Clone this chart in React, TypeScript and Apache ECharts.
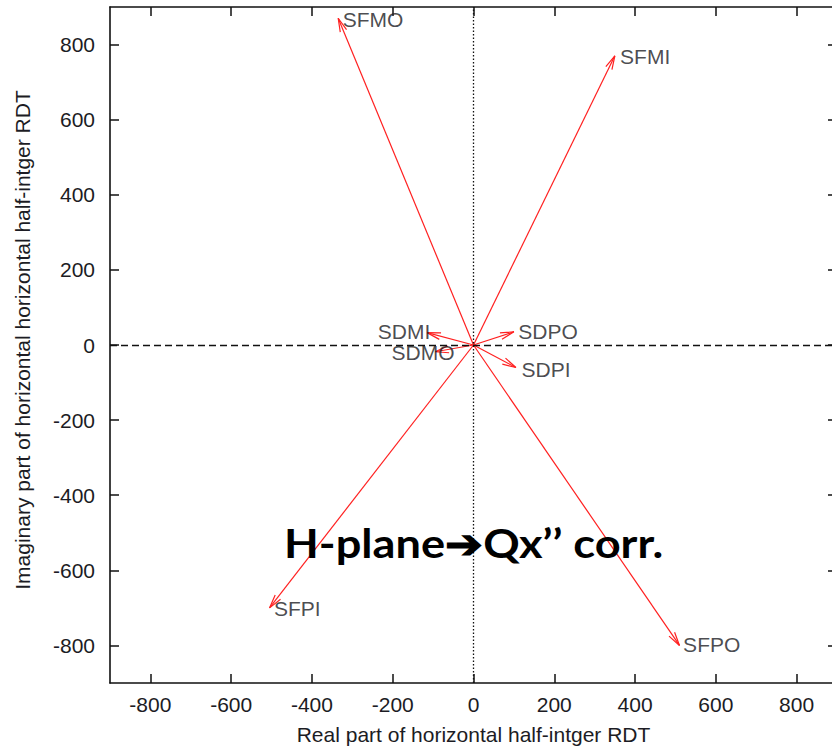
import React, { useEffect, useRef } from "react";
import * as echarts from "echarts";

const names = ["SFMO", "SFMI", "SFPI", "SFPO", "SDPO", "SDPI", "SDMI", "SDMO"];
const realPart = [-335, 350, -505, 510, 100, 105, -115, -95];
const imagPart = [870, 770, -700, -800, 35, -60, 33, -18];
const labelX = [-324, 363, -494, 519, 111, 119, -237, -203];
const labelY = [867, 768, -701, -797, 35, -64, 35, -21];
const tickValues = [-800, -600, -400, -200, 0, 200, 400, 600, 800];
const xTitle = "Real part of horizontal half-intger RDT";
const yTitle = "Imaginary part of horizontal horizontal half-intger RDT";
const overlayText = "H-plane\u2794Qx\u2019\u2019 corr.";

const FONT = "'Liberation Sans', Arial, sans-serif";
const TXT = "#1c1c24";
const FS = 21;

export default function App() {
  const ref = useRef<HTMLDivElement>(null);
  useEffect(() => {
    if (!ref.current) return;
    const chart = echarts.init(ref.current, undefined, { renderer: "svg" });
    const axisCommon = {
      type: "value" as const,
      min: -900,
      max: 900,
      splitLine: { show: false },
      axisLine: { show: true, onZero: false, lineStyle: { color: "#111", width: 1.6 } },
      axisTick: {
        show: true,
        inside: true,
        length: 9,
        customValues: tickValues,
        lineStyle: { color: "#111", width: 1.5 },
      },
    };
    const arrowData = names.map((n, i) => ({ name: n, value: [realPart[i], imagPart[i]] }));
    const labelData = names.map((n, i) => ({ name: n, value: [labelX[i], labelY[i]] }));
    chart.setOption({
      animation: false,
      backgroundColor: "#fff",
      grid: { left: 110, top: 7, width: 727, height: 676, outerBoundsMode: "none", containLabel: false },
      xAxis: [
        {
          ...axisCommon,
          position: "bottom",
          name: xTitle,
          nameLocation: "middle",
          nameGap: 41,
          nameTextStyle: { fontFamily: FONT, fontSize: FS, color: TXT },
          axisLabel: {
            show: true,
            customValues: tickValues,
            margin: 11,
            fontFamily: FONT,
            fontSize: FS,
            color: TXT,
          },
        },
        { ...axisCommon, position: "top", axisLabel: { show: false } },
      ],
      yAxis: [
        {
          ...axisCommon,
          position: "left",
          axisLabel: {
            show: true,
            customValues: tickValues,
            margin: 15,
            fontFamily: FONT,
            fontSize: FS,
            color: TXT,
          },
        },
        { ...axisCommon, position: "right", axisLabel: { show: false } },
      ],
      series: [
        {
          type: "custom",
          xAxisIndex: 0,
          yAxisIndex: 0,
          data: arrowData,
          renderItem: (params: any, api: any) => {
            const p0 = api.coord([0, 0]);
            const p1 = api.coord([api.value(0), api.value(1)]);
            const ang = Math.atan2(p1[1] - p0[1], p1[0] - p0[0]);
            const len = 14;
            const spread = (14 * Math.PI) / 180;
            const h1 = [p1[0] - len * Math.cos(ang - spread), p1[1] - len * Math.sin(ang - spread)];
            const h2 = [p1[0] - len * Math.cos(ang + spread), p1[1] - len * Math.sin(ang + spread)];
            return {
              type: "group",
              children: [
                {
                  type: "line",
                  shape: { x1: p0[0], y1: p0[1], x2: p1[0], y2: p1[1] },
                  style: { stroke: "#ff2020", lineWidth: 1.2 },
                },
                {
                  type: "polyline",
                  shape: { points: [h1, p1, h2] },
                  style: { stroke: "#ff2020", lineWidth: 1.2, fill: "none" },
                },
              ],
            };
          },
          markLine: {
            silent: true,
            symbol: "none",
            label: { show: false },
            data: [
              { xAxis: 0, lineStyle: { color: "#111", width: 1.3, type: [1.5, 2] } },
              { yAxis: 0, lineStyle: { color: "#111", width: 1.3, type: [7, 4] } },
            ],
          },
          z: 3,
        },
        {
          type: "scatter",
          data: labelData,
          symbolSize: 0,
          label: {
            show: true,
            position: "right",
            distance: 0,
            formatter: (p: any) => p.name,
            fontFamily: FONT,
            fontSize: FS,
            color: TXT,
          },
          z: 4,
        },
      ],
      graphic: [
        {
          type: "text",
          x: 22,
          y: 340,
          rotation: Math.PI / 2,
          z: 10,
          style: {
            text: yTitle,
            font: "21px 'Liberation Sans', Arial, sans-serif",
            fill: TXT,
            align: "center",
            verticalAlign: "middle",
          },
        },
        {
          type: "text",
          x: 284,
          y: 523,
          scaleX: 1.13,
          z: 10,
          style: {
            text: overlayText,
            font: "bold 40px Lato, 'Open Sans', sans-serif",
            fill: "#000",
          },
        },
      ],
    });
    return () => chart.dispose();
  }, []);
  return (
    <div style={{ position: "fixed", left: 0, top: 0, width: 832, height: 747, overflow: "hidden", background: "#fff" }}>
      <div ref={ref} style={{ width: 850, height: 747 }} />
    </div>
  );
}
